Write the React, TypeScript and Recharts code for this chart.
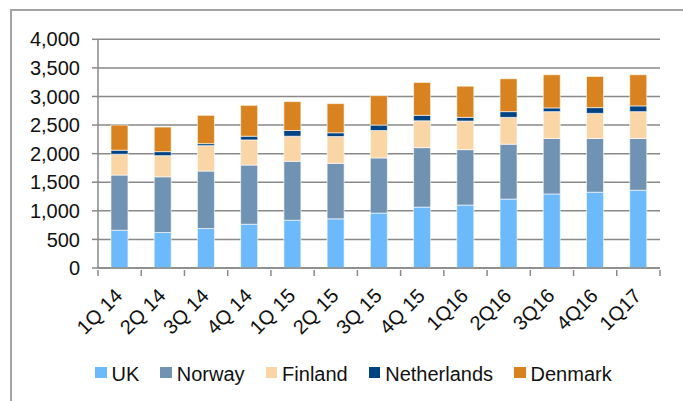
import React from "react";
import { BarChart, Bar, XAxis, YAxis, CartesianGrid, Legend } from "recharts";

const quarters = ["1Q 14", "2Q 14", "3Q 14", "4Q 14", "1Q 15", "2Q 15", "3Q 15", "4Q 15", "1Q16", "2Q16", "3Q16", "4Q16", "1Q17"];
const uk = [660, 620, 690, 765, 835, 860, 960, 1065, 1100, 1205, 1295, 1325, 1360];
const norway = [965, 975, 1005, 1035, 1030, 970, 965, 1040, 970, 960, 970, 940, 905];
const finland = [365, 370, 445, 440, 440, 470, 480, 470, 500, 470, 470, 440, 470];
const netherlands = [70, 70, 35, 65, 100, 65, 95, 95, 65, 100, 65, 100, 100];
const denmark = [440, 430, 495, 540, 505, 510, 515, 575, 545, 575, 580, 545, 545];
const yTicks = [0, 500, 1000, 1500, 2000, 2500, 3000, 3500, 4000];

const series = [
  { key: "UK", values: uk, color: "#6cb9fc" },
  { key: "Norway", values: norway, color: "#7193b3" },
  { key: "Finland", values: finland, color: "#fad6a6" },
  { key: "Netherlands", values: netherlands, color: "#004282" },
  { key: "Denmark", values: denmark, color: "#d8831f" },
];

const data = quarters.map((q, i) => {
  const row: Record<string, string | number> = { q };
  series.forEach((s) => (row[s.key] = s.values[i]));
  return row;
});

const FONT = "'Liberation Sans', Arial, sans-serif";
const GRID = "#898989";

// category label rotated 45deg plus tick marks on the band edges
function QuarterTick(props: any) {
  const { x, y, payload, index } = props;
  const half = payload.offset ?? 0;
  const last = index === quarters.length - 1;
  const lx = x + 4;
  const ly = y + 27;
  return (
    <g>
      <line x1={x - half} x2={x - half} y1={y} y2={y + 6} stroke={GRID} strokeWidth={1.5} />
      {last && <line x1={x + half} x2={x + half} y1={y} y2={y + 6} stroke={GRID} strokeWidth={1.5} />}
      <text x={lx} y={ly} transform={`rotate(-45, ${lx}, ${ly})`} textAnchor="end" fontSize={20} fontFamily={FONT} fill="#111">
        {payload.value}
      </text>
    </g>
  );
}

function LegendRow() {
  return (
    <div style={{ display: "flex", alignItems: "center", fontFamily: FONT, fontSize: 20, color: "#111", whiteSpace: "nowrap" }}>
      {series.map((s, i) => (
        <div key={s.key} style={{ display: "flex", alignItems: "center", marginLeft: i === 0 ? 0 : 21 }}>
          <span style={{ width: 11.5, height: 11.5, background: s.color, marginRight: 5, marginTop: -3 }} />
          <span>{s.key}</span>
        </div>
      ))}
    </div>
  );
}

export default function App() {
  return (
    <div style={{ position: "absolute", left: 0, top: 0, width: 683, height: 401, overflow: "hidden", background: "#fff" }}>
      <div style={{ position: "absolute", left: 10, top: 9, width: 720, height: 420, border: "2px solid #a3a3a3" }} />
      <BarChart
        width={683}
        height={401}
        data={data}
        margin={{ top: 39.3, right: 23, left: 0, bottom: 0 }}
        barCategoryGap="30%"
      >
        <CartesianGrid vertical={false} stroke={GRID} strokeWidth={1.5} />
        <XAxis
          dataKey="q"
          height={85}
          interval={0}
          tickSize={0}
          tickLine={false}
          axisLine={{ stroke: GRID, strokeWidth: 1.5 }}
          tick={<QuarterTick />}
        />
        <YAxis
          width={98}
          domain={[0, 4000]}
          ticks={yTicks}
          tickSize={6}
          tickMargin={12}
          tickFormatter={(v: number) => v.toLocaleString("en-US")}
          tick={{ fontSize: 20, fontFamily: FONT, fill: "#111" }}
          tickLine={{ stroke: GRID, strokeWidth: 1.5 }}
          axisLine={{ stroke: GRID, strokeWidth: 1.5 }}
        />
        {series.map((s) => (
          <Bar
            key={s.key}
            dataKey={s.key}
            stackId="a"
            fill={s.color}
            stroke="#ffffff"
            strokeWidth={0.6}
            isAnimationActive={false}
          />
        ))}
        <Legend
          verticalAlign="bottom"
          height={48}
          content={<LegendRow />}
          wrapperStyle={{ left: 95, top: 362.6, width: 600, height: 48 }}
        />
      </BarChart>
    </div>
  );
}
